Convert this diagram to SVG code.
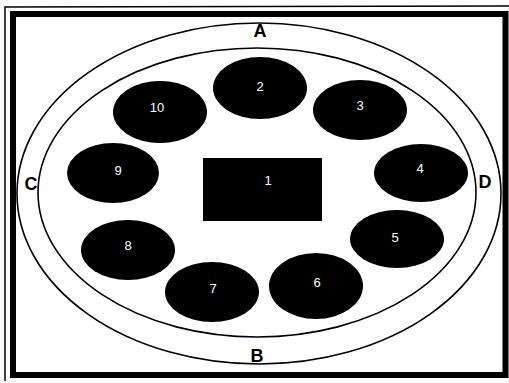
<svg xmlns="http://www.w3.org/2000/svg" width="509" height="383" viewBox="0 0 509 383">
<style>
.ring{fill:none;stroke:#000;stroke-width:1.6}
.node{fill:#000}
.lbl{fill:#fff;font-family:"Liberation Sans",Arial,sans-serif;font-size:13px;text-anchor:middle}
.let{fill:#000;font-family:"Liberation Sans Narrow","Liberation Sans",Arial,sans-serif;font-weight:bold;font-size:18px;text-anchor:middle}
</style>
<rect x="0" y="0" width="509" height="383" fill="#fff"/>
<g id="frame">
<polyline points="5,381 5,7 509,6" fill="none" stroke="#000" stroke-width="1.5"/>
<rect x="13" y="14" width="492.5" height="361" fill="none" stroke="#000" stroke-width="6"/>
</g>
<g id="rings">
<ellipse class="ring" cx="259" cy="193.5" rx="242" ry="170.5"/>
<ellipse class="ring" cx="257" cy="192.5" rx="219" ry="144.5"/>
<text class="let" x="260" y="37">A</text>
<text class="let" x="257" y="362">B</text>
<text class="let" x="31" y="190">C</text>
<text class="let" x="485" y="188">D</text>
</g>
<g id="connectors"></g>
<g id="n1"><rect class="node" x="203" y="158" width="119" height="63"/><text class="lbl" x="268" y="185">1</text></g>
<g id="n2"><ellipse class="node" cx="260" cy="88" rx="47" ry="31"/><text class="lbl" x="260" y="91">2</text></g>
<g id="n3"><ellipse class="node" cx="360" cy="110" rx="47" ry="30"/><text class="lbl" x="360" y="110">3</text></g>
<g id="n4"><ellipse class="node" cx="421" cy="173" rx="47" ry="29"/><text class="lbl" x="420" y="173">4</text></g>
<g id="n5"><ellipse class="node" cx="397" cy="239" rx="47" ry="29"/><text class="lbl" x="395" y="242">5</text></g>
<g id="n6"><ellipse class="node" cx="316" cy="286" rx="47" ry="33"/><text class="lbl" x="317" y="287">6</text></g>
<g id="n7"><ellipse class="node" cx="212" cy="292" rx="47" ry="30"/><text class="lbl" x="213" y="293">7</text></g>
<g id="n8"><ellipse class="node" cx="128" cy="250" rx="47" ry="30"/><text class="lbl" x="128" y="250">8</text></g>
<g id="n9"><ellipse class="node" cx="113" cy="173" rx="46" ry="30"/><text class="lbl" x="118" y="175">9</text></g>
<g id="n10"><ellipse class="node" cx="160" cy="112" rx="47" ry="31"/><text class="lbl" x="157" y="112">10</text></g>
</svg>
